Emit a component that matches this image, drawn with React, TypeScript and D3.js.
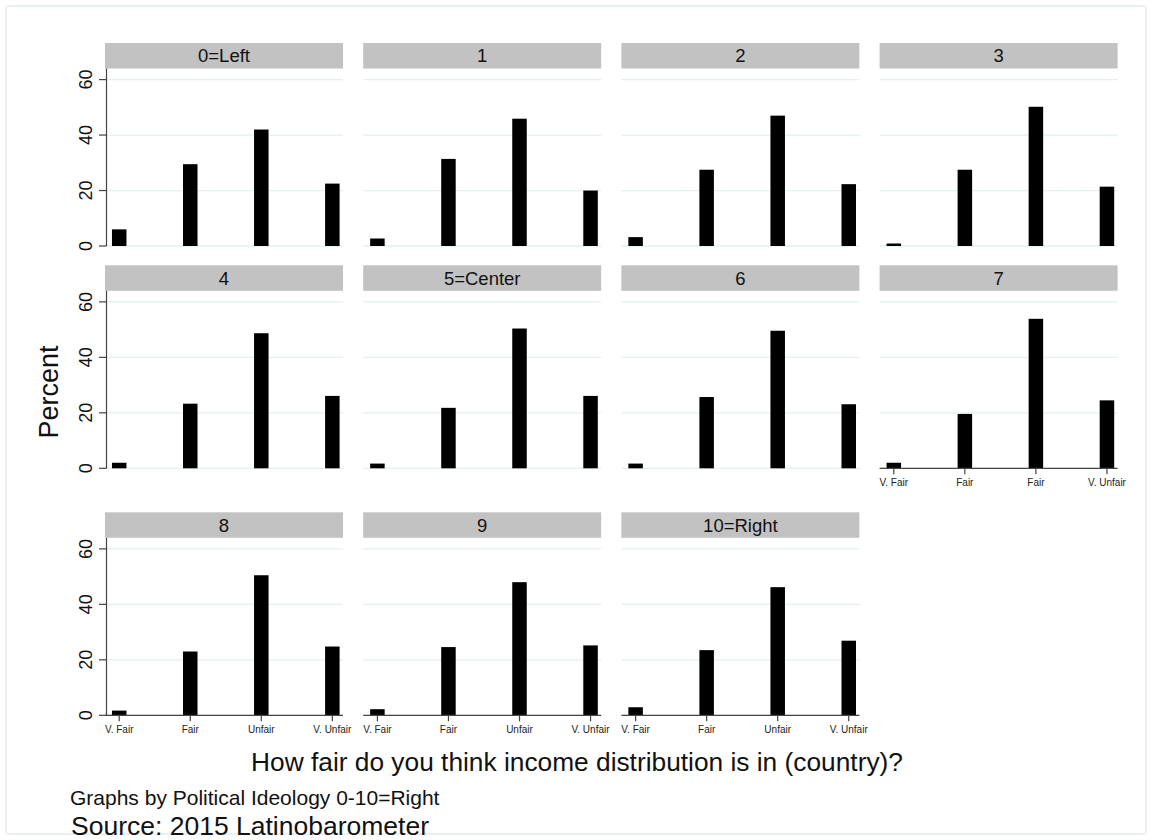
import React from "react";
import * as d3 from "d3";

// ---- data ----
const panelLabels = ["0=Left", "1", "2", "3", "4", "5=Center", "6", "7", "8", "9", "10=Right"];
const categories = ["V. Fair", "Fair", "Unfair", "V. Unfair"];
const panel7TickLabels = ["V. Fair", "Fair", "Fair", "V. Unfair"];
const vFair = [6.0, 2.7, 3.2, 0.9, 2.0, 1.7, 1.7, 2.0, 1.7, 2.2, 2.9];
const fair = [29.5, 31.4, 27.5, 27.5, 23.3, 21.8, 25.7, 19.6, 23.0, 24.6, 23.5];
const unfair = [42.0, 45.9, 47.0, 50.2, 48.7, 50.4, 49.6, 53.9, 50.5, 48.0, 46.2];
const vUnfair = [22.5, 20.0, 22.3, 21.4, 26.1, 26.1, 23.1, 24.5, 24.8, 25.2, 26.9];
const yTicks = [0, 20, 40, 60];
const titleText = "How fair do you think income distribution is in (country)?";
const noteText = "Graphs by Political Ideology 0-10=Right";
const sourceText = "Source: 2015 Latinobarometer";
const yTitle = "Percent";

// ---- layout ----
const W = 1152;
const H = 840;
const FONT = "'Liberation Sans', Arial, Helvetica, sans-serif";
const colX0 = 105;
const colStep = 258.2;
const panelW = 238;
const plotH = 177.5;
const headerH = 25.5;
const rowBottoms = [246, 468.3, 715.3];
const barW = 14.5;

export default function App() {
  const x = d3.scaleLinear().domain([0.8, 4.15]).range([0, panelW]);
  const y = d3.scaleLinear().domain([0, 64]).range([plotH, 0]);
  const seriesList = [vFair, fair, unfair, vUnfair];

  const panels = panelLabels.map((label, i) => {
    const r = Math.floor(i / 4);
    const c = i % 4;
    const px = colX0 + c * colStep;
    const bottom = rowBottoms[r];
    const top = bottom - plotH;
    const values = seriesList.map((s) => s[i]);
    const hasXAxis = i >= 7;
    const tickLabels = i === 7 ? panel7TickLabels : categories;
    return (
      <g key={label} transform={`translate(${px},${top})`}>
        <rect x={0} y={-headerH} width={panelW} height={headerH} fill="#c2c2c2" />
        <text
          x={panelW / 2}
          y={-headerH / 2 + 6.5}
          textAnchor="middle"
          fontSize={18.5}
          fontFamily={FONT}
          fill="#111"
        >
          {label}
        </text>
        {yTicks.map((t) => (
          <line key={t} x1={0} x2={panelW} y1={y(t)} y2={y(t)} stroke="#e6eff2" strokeWidth={1.3} />
        ))}
        {values.map((v, k) => (
          <rect
            key={k}
            x={x(k + 1) - barW / 2}
            y={y(v)}
            width={barW}
            height={y(0) - y(v)}
            fill="#000"
          />
        ))}
        {c === 0 && (
          <g>
            <line x1={1.5} x2={1.5} y1={0} y2={plotH} stroke="#444" strokeWidth={1.2} />
            {yTicks.map((t) => (
              <g key={t}>
                <line x1={-6} x2={1.5} y1={y(t)} y2={y(t)} stroke="#444" strokeWidth={1.2} />
                <text
                  transform={`translate(-13,${y(t)}) rotate(-90)`}
                  textAnchor="middle"
                  fontSize={18}
                  fontFamily={FONT}
                  fill="#111"
                >
                  {t}
                </text>
              </g>
            ))}
          </g>
        )}
        {hasXAxis && (
          <g>
            <line x1={0} x2={panelW} y1={plotH} y2={plotH} stroke="#444" strokeWidth={1.2} />
            {tickLabels.map((lab, k) => (
              <g key={k}>
                <line x1={x(k + 1)} x2={x(k + 1)} y1={plotH} y2={plotH + 6} stroke="#444" strokeWidth={1.2} />
                <text
                  x={x(k + 1)}
                  y={plotH + 18}
                  textAnchor="middle"
                  fontSize={10}
                  fontFamily={FONT}
                  fill="#222"
                >
                  {lab}
                </text>
              </g>
            ))}
          </g>
        )}
      </g>
    );
  });

  return (
    <svg
      width={W}
      height={H}
      style={{ position: "absolute", left: 0, top: 0, background: "#fff" }}
    >
      <rect x={0} y={0} width={W} height={H} fill="#fff" />
      <rect x={6} y={6} width={W - 12} height={H - 12} fill="none" stroke="#e3ebee" strokeWidth={1.5} rx={3} />
      {panels}
      <text
        transform={`translate(58,392) rotate(-90)`}
        textAnchor="middle"
        fontSize={27}
        fontFamily={FONT}
        fill="#111"
      >
        {yTitle}
      </text>
      <text x={577} y={771} textAnchor="middle" fontSize={26.3} fontFamily={FONT} fill="#111">
        {titleText}
      </text>
      <text x={70} y={805} fontSize={21} fontFamily={FONT} fill="#111">
        {noteText}
      </text>
      <text x={71} y={835} fontSize={26.5} fontFamily={FONT} fill="#111">
        {sourceText}
      </text>
    </svg>
  );
}
